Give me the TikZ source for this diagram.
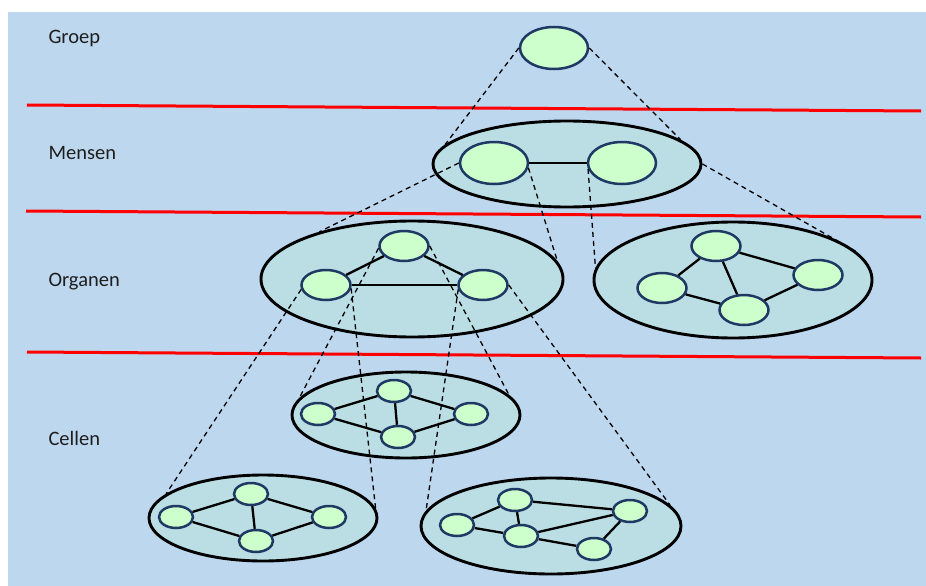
\documentclass[tikz,border=0pt]{standalone}
\usepackage{fontspec}
\setmainfont{Carlito}
\usepackage{xcolor}
\usepackage{tikz}
\usetikzlibrary{shapes.geometric}
\definecolor{bgblue}{RGB}{189,215,238}
\definecolor{grpfill}{RGB}{186,222,228}
\definecolor{cellgreen}{RGB}{204,255,204}
\definecolor{navy}{RGB}{31,56,100}
\definecolor{txtgray}{RGB}{30,30,30}

\begin{document}
\begin{tikzpicture}[x=1pt,y=-1pt,
		group/.style={ellipse,draw=black,line width=2.9pt,fill=grpfill,inner sep=0pt},
		unit/.style={ellipse,draw=navy,line width=2.5pt,fill=cellgreen,inner sep=0pt},
		person/.style={unit,minimum width=68pt,minimum height=42pt},
		organ/.style={unit,minimum width=49pt,minimum height=30pt},
		cell/.style={unit,minimum width=34pt,minimum height=22pt},
		link/.style={black,line width=2.3pt},
		proj/.style={black,line width=1.3pt,dash pattern=on 5pt off 4pt},
		level/.style={red,line width=3pt},
		lbl/.style={anchor=base west,text=txtgray,font=\fontsize{20.5}{24}\selectfont}]
		\useasboundingbox (0,0) rectangle (926,586);
		\fill[bgblue] (8,12) rectangle (926,586);
		% level separators
		\draw[level] (27,105) -- (921,111);
		\draw[level] (26,211) -- (921,217);
		\draw[level] (27,352) -- (921,358);
		\node[lbl] (tGroep) at (45,44) {Groep};
		\node[lbl] (tMensen) at (45,159) {Mensen};
		\node[lbl] (tOrganen) at (45,286) {Organen};
		\node[lbl] (tCellen) at (45,445) {Cellen};
		% groep
		\node[person] (grp) at (554,48) {};
		% mensen
		\node[group,minimum width=268pt,minimum height=86pt] (mens) at (567,164) {};
		\node[person] (pA) at (494,163) {};
		\node[person] (pB) at (622,163) {};
		\draw[link] (pA) -- (pB);
		% organen
		\node[group,minimum width=302pt,minimum height=116pt] (orgA) at (412,279) {};
		\node[organ] (oA1) at (404,246) {};
		\node[organ] (oA2) at (326,285) {};
		\node[organ] (oA3) at (483,285) {};
		\draw[link] (oA1) -- (oA2);
		\draw[link] (oA1) -- (oA3);
		\draw[link] (oA2) -- (oA3);
		\node[group,minimum width=278pt,minimum height=116pt] (orgB) at (733,280) {};
		\node[organ] (oB1) at (716,246) {};
		\node[organ] (oB2) at (662,288) {};
		\node[organ] (oB3) at (744,310) {};
		\node[organ] (oB4) at (818,275) {};
		\draw[link] (oB1) -- (oB2);
		\draw[link] (oB1) -- (oB3);
		\draw[link] (oB1) -- (oB4);
		\draw[link] (oB2) -- (oB3);
		\draw[link] (oB3) -- (oB4);
		% cellen
		\node[group,minimum width=228pt,minimum height=86pt] (celA) at (406,415) {};
		\node[cell] (cA1) at (318,414) {};
		\node[cell] (cA2) at (394,391) {};
		\node[cell] (cA3) at (398,437) {};
		\node[cell] (cA4) at (471,414) {};
		\draw[link] (cA1) -- (cA2);
		\draw[link] (cA2) -- (cA3);
		\draw[link] (cA2) -- (cA4);
		\draw[link] (cA1) -- (cA3);
		\draw[link] (cA3) -- (cA4);
		\node[group,minimum width=228pt,minimum height=86pt] (celB) at (263,518) {};
		\node[cell] (cB1) at (176,517) {};
		\node[cell] (cB2) at (251,494) {};
		\node[cell] (cB3) at (256,541) {};
		\node[cell] (cB4) at (329,517) {};
		\draw[link] (cB1) -- (cB2);
		\draw[link] (cB2) -- (cB3);
		\draw[link] (cB2) -- (cB4);
		\draw[link] (cB1) -- (cB3);
		\draw[link] (cB3) -- (cB4);
		\node[group,minimum width=260pt,minimum height=96pt] (celC) at (551,526) {};
		\node[cell] (cC1) at (457,525) {};
		\node[cell] (cC2) at (515,500) {};
		\node[cell] (cC3) at (521,536) {};
		\node[cell] (cC4) at (630,511) {};
		\node[cell] (cC5) at (594,549) {};
		\draw[link] (cC1) -- (cC2);
		\draw[link] (cC1) -- (cC3);
		\draw[link] (cC2) -- (cC3);
		\draw[link] (cC2) -- (cC4);
		\draw[link] (cC3) -- (cC4);
		\draw[link] (cC3) -- (cC5);
		\draw[link] (cC5) -- (cC4);
		% projection lines
		\draw[proj] (grp.west) -- (mens.171);
		\draw[proj] (grp.east) -- (mens.12);
		\draw[proj] (pA.west) -- (orgA.153);
		\draw[proj] (pA.-8) -- (orgA.7);
		\draw[proj] (pB.190) -- (orgB.175);
		\draw[proj] (mens.east) -- (orgB.13);
		\draw[proj] (oA2.190) -- (celB.166);
		\draw[proj] (oA1.185) -- (celA.171);
		\draw[proj] (oA2.-8) -- (celB.5);
		\draw[proj] (oA1.east) -- (celA.11);
		\draw[proj] (oA3.190) -- (celC.173);
		\draw[proj] (oA3.east) -- (celC.10);
	\end{tikzpicture}
\end{document}
